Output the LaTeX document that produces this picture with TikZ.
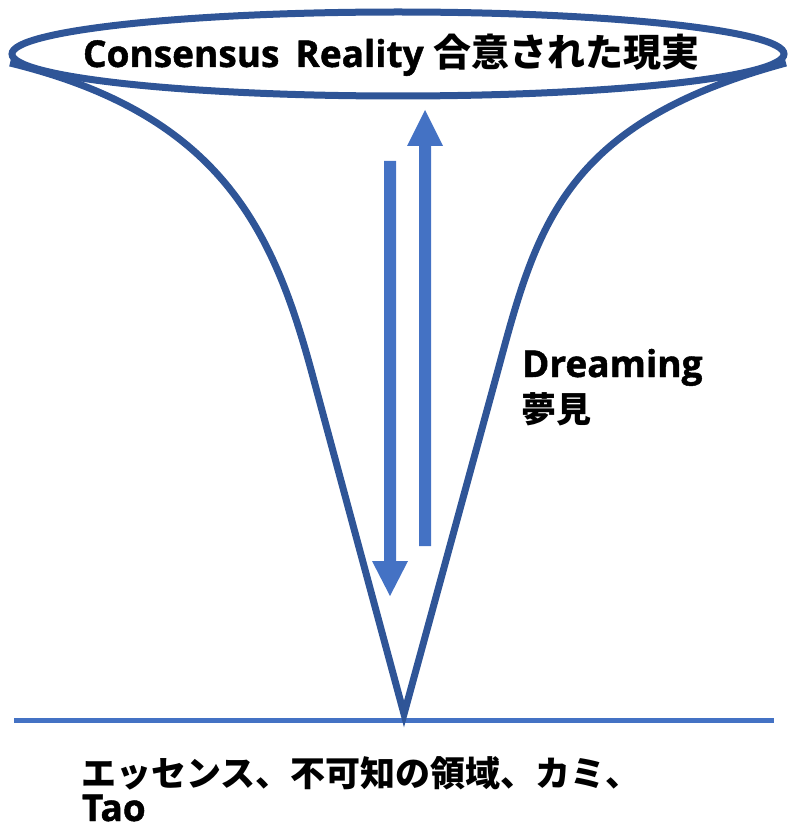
\documentclass[tikz,border=0pt]{standalone}
\usepackage{fontspec}
\usepackage{graphicx}
\setmainfont{Open Sans}[BoldFeatures={FakeBold=1.2}]
\newfontfamily\jp{Noto Sans CJK JP}
\definecolor{funnel}{HTML}{2F5597}
\definecolor{arrowblue}{HTML}{4472C4}
\tikzset{
  funnelline/.style={draw=funnel, line width=7pt, line join=miter},
  baseline line/.style={draw=arrowblue, line width=5pt},
  bigarrow/.style={fill=arrowblue, draw=none},
  txt/.style={inner sep=0pt, outer sep=0pt, anchor=base west, font=\bfseries}
}
\begin{document}
\begin{tikzpicture}[x=1pt, y=-1pt]
\useasboundingbox (0,0) rectangle (788,829);
% horizontal ground line
\coordinate (hl) at (14,720);
\coordinate (hr) at (774,720);
\draw[baseline line] (hl) -- (hr);
% funnel
\coordinate (ls) at (10,63);
\coordinate (lm) at (313,377);
\coordinate (tip) at (404,714);
\coordinate (rm) at (498,370);
\coordinate (rs) at (786,63);
\draw[funnelline] (ls) .. controls (223,115) and (274,232) .. (lm) -- (tip) -- (rm) .. controls (537,225) and (564,123) .. (rs);
% top ellipse
\draw[funnelline] (398,54) ellipse [x radius=386pt, y radius=42pt];
% arrows
\fill[bigarrow] (419,546) -- (419,146) -- (407,146) -- (425,110) -- (443,146) -- (431,146) -- (431,546) -- cycle;
\fill[bigarrow] (384,161) -- (384,561) -- (372,561) -- (390,596) -- (408,561) -- (396,561) -- (396,161) -- cycle;
% texts
\node[txt] (top) at (83,67) {\fontsize{37}{44}\selectfont Consensus\hspace{16pt}Reality\hspace{10pt}{\jp\bfseries\fontsize{38}{44}\selectfont 合意された現実}};
\node[txt] (dream) at (522,377) {\fontsize{37}{44}\selectfont Dreaming};
\node[txt] (yume) at (521,422) {\jp\bfseries\fontsize{35}{42}\selectfont 夢見};
\node[txt] (ess) at (81,786) {\jp\bfseries\fontsize{35}{42}\selectfont エッセンス、不可知の領域、カミ、};
\node[txt] (tao) at (82,821) {\fontsize{37}{44}\selectfont Tao};
\end{tikzpicture}
\end{document}
